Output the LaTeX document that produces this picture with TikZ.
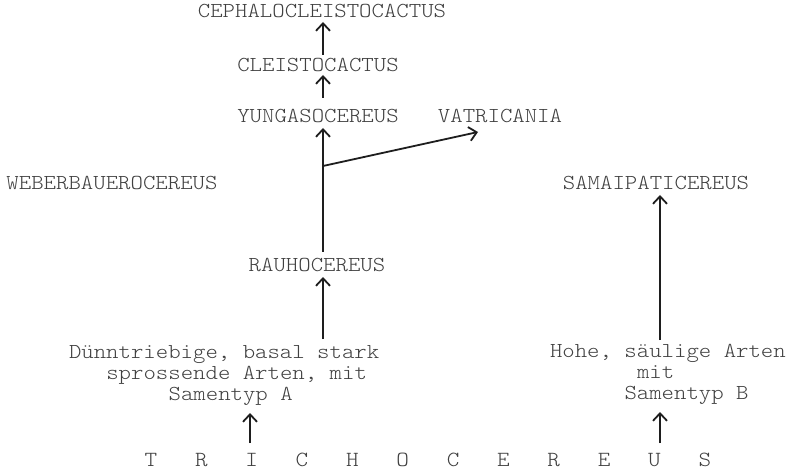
\documentclass[tikz,border=0pt]{standalone}
\usepackage{fontspec}
\setmonofont{Latin Modern Mono Light}[FakeStretch=1.11]
\usetikzlibrary{arrows.meta,calc}
\definecolor{txt}{HTML}{404040}
\definecolor{ln}{HTML}{1E1E1E}
\tikzset{
  lbl/.style={font=\ttfamily\fontsize{21.3}{21}\selectfont, text=txt, inner sep=0pt, outer sep=0pt, text height=13pt, text depth=0pt, anchor=base},
  lblw/.style={lbl, anchor=base west},
  arr/.style={draw=ln, line width=1.8pt, -{Straight Barb[length=7.5pt,width=14pt]}}
}
\begin{document}
\begin{tikzpicture}[x=1pt,y=-1pt]
\useasboundingbox (0,0) rectangle (790,473);
% axes for vertical connectors
\coordinate (xM) at (323,0);
\coordinate (xA) at (250,0);
\coordinate (xB) at (660,0);
% genus nodes
\node[lbl] (cephalo) at (322,18) {CEPHALOCLEISTOCACTUS};
\node[lbl] (cleisto) at (318,72) {CLEISTOCACTUS};
\node[lbl] (yunga) at (318,123) {YUNGASOCEREUS};
\node[lbl] (vatri) at (500,123) {VATRICANIA};
\node[lbl] (weber) at (112,190) {WEBERBAUEROCEREUS};
\node[lbl] (samai) at (656,190) {SAMAIPATICEREUS};
\node[lbl] (rauho) at (317,272) {RAUHOCEREUS};
% group A
\node[lblw] (samA1) at (69,358) {Dünntriebige, basal stark};
\node[lblw] (samA2) at (106.3,379) {sprossende Arten, mit};
\node[lblw] (samA3) at (168.6,400) {Samentyp A};
% group B
\node[lblw] (samB1) at (550,357) {Hohe, säulige Arten};
\node[lblw] (samB2) at (637,378) {mit};
\node[lblw] (samB3) at (624.5,399) {Samentyp B};
% base
\node[lblw, font=\ttfamily\fontsize{21.6}{21}\selectfont] (trich) at (144.7,466) {T\ \ \ R\ \ \ I\ \ \ C\ \ \ H\ \ \ O\ \ \ C\ \ \ E\ \ \ R\ \ \ E\ \ \ U\ \ \ S};
% connectors
\draw[arr, shorten <=4pt, shorten >=4pt] (cleisto.north -| xM) -- (cephalo.south -| xM);
\draw[arr, shorten <=12pt, shorten >=3pt] (yunga.north -| xM) -- (cleisto.south -| xM);
\draw[arr, shorten <=7pt, shorten >=5pt] (rauho.north -| xM) -- (yunga.south -| xM);
\coordinate (br) at (323,166);
\draw[arr] (br) -- ([shift={(-22,9)}]vatri.south);
\draw[arr, shorten <=6pt, shorten >=5pt] (samA1.north -| xM) -- (rauho.south -| xM);
\draw[arr, shorten <=10pt, shorten >=13pt] (trich.north -| xA) -- (samA3.south -| xA);
\draw[arr, shorten <=4pt, shorten >=5pt] (samB1.north -| xB) -- (samai.south -| xB);
\draw[arr, shorten <=10pt, shorten >=13pt] (trich.north -| xB) -- (samB3.south -| xB);
\end{tikzpicture}
\end{document}
